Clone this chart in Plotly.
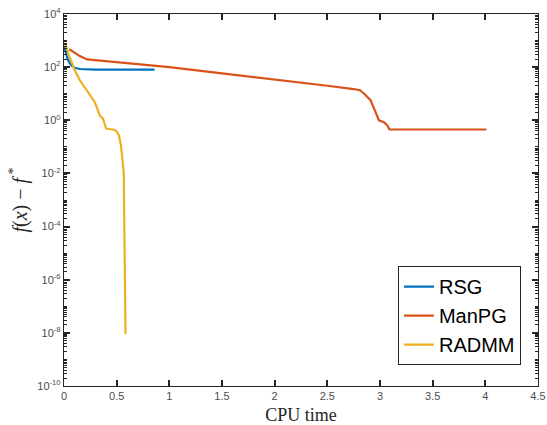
import plotly.graph_objects as go

rsg_x = [0.0, 0.01, 0.03, 0.05, 0.07, 0.1, 0.15, 0.3, 0.6, 0.86]
rsg_y = [620, 420, 230, 150, 115, 95, 85, 81, 80, 80]

manpg_x = [0.05, 0.1, 0.15, 0.22, 0.6, 1.0, 1.5, 2.0, 2.5, 2.75, 2.81, 2.85, 2.88, 2.91, 2.95, 2.99, 3.02, 3.04, 3.07, 3.09, 3.5, 4.01]
manpg_y = [470, 350, 260, 195, 145, 100, 58, 35, 20, 15, 13.5, 10, 7.5, 5.7, 2.4, 1.0, 0.9, 0.83, 0.64, 0.45, 0.45, 0.45]

radmm_x = [0.0, 0.016, 0.04, 0.07, 0.1, 0.15, 0.2, 0.25, 0.29, 0.31, 0.34, 0.37, 0.39, 0.40, 0.44, 0.47, 0.5, 0.52, 0.54, 0.555, 0.565, 0.568, 0.570, 0.572, 0.575, 0.578, 0.581, 0.584]
radmm_y = [800, 700, 330, 158, 80, 32, 16, 8.8, 5, 3.2, 1.5, 1.15, 0.7, 0.49, 0.46, 0.45, 0.38, 0.28, 0.12, 0.04, 0.012, 1e-2, 1e-3, 1e-4, 1e-5, 1e-6, 1e-7, 9e-9]

names = ["RSG", "ManPG", "RADMM"]
colors = ["#0072BD", "#D95319", "#EDB120"]

y_exps = [4, 2, 0, -2, -4, -6, -8, -10]
y_tickvals = [10.0 ** e for e in y_exps]
y_ticktext = ["10<sup>%d</sup>" % e for e in y_exps]
y_minor = [k * 10.0 ** e for e in range(-10, 4) for k in range(2, 10)] + [10.0 ** e for e in range(-9, 4, 2)]

fig = go.Figure()
for nm, xs, ys, c in zip(names, [rsg_x, manpg_x, radmm_x], [rsg_y, manpg_y, radmm_y], colors):
    fig.add_trace(go.Scatter(x=xs, y=ys, mode="lines", name=nm,
                             line=dict(color=c, width=2.2)))

tickfont = dict(family="Liberation Sans, Arial", size=11, color="#4d4d4d")

fig.update_layout(
    xaxis=dict(range=[0, 4.5], dtick=0.5, ticks="inside", ticklen=6, tickwidth=1.6, tickcolor="#262626",
               showline=True, linecolor="#262626", linewidth=1.3, mirror="allticks",
               showgrid=False, zeroline=False, automargin=False, tickfont=tickfont,
               title=dict(text="CPU time", font=dict(family="Liberation Serif, Times New Roman", size=18, color="#262626"), standoff=9)),
    yaxis=dict(type="log", range=[-10, 4], tickmode="array", tickvals=y_tickvals, ticktext=y_ticktext,
               ticks="inside", ticklen=6, tickwidth=1.6, tickcolor="#262626",
               showline=True, linecolor="#262626", linewidth=1.3, mirror="allticks",
               showgrid=False, zeroline=False, automargin=False, tickfont=tickfont,
               minor=dict(tickmode="array", tickvals=y_minor, ticks="inside", ticklen=3,
                          tickcolor="#262626", tickwidth=1.3, showgrid=False),
               title=dict(text="<i>f</i>(<i>x</i>) − <i>f</i><sup> *</sup>", font=dict(family="Liberation Serif, Times New Roman", size=20, color="#262626"), standoff=4)),
    width=547, height=425,
    margin=dict(l=64, r=9, t=14, b=39),
    paper_bgcolor="white", plot_bgcolor="white",
    showlegend=True,
    legend=dict(x=0.964, y=0.056, xanchor="right", yanchor="bottom",
                bordercolor="#262626", borderwidth=1, bgcolor="white",
                font=dict(family="Liberation Sans, Arial", size=20, color="black"),
                itemwidth=30, tracegroupgap=0),
)

fig.write_html("out.html")
